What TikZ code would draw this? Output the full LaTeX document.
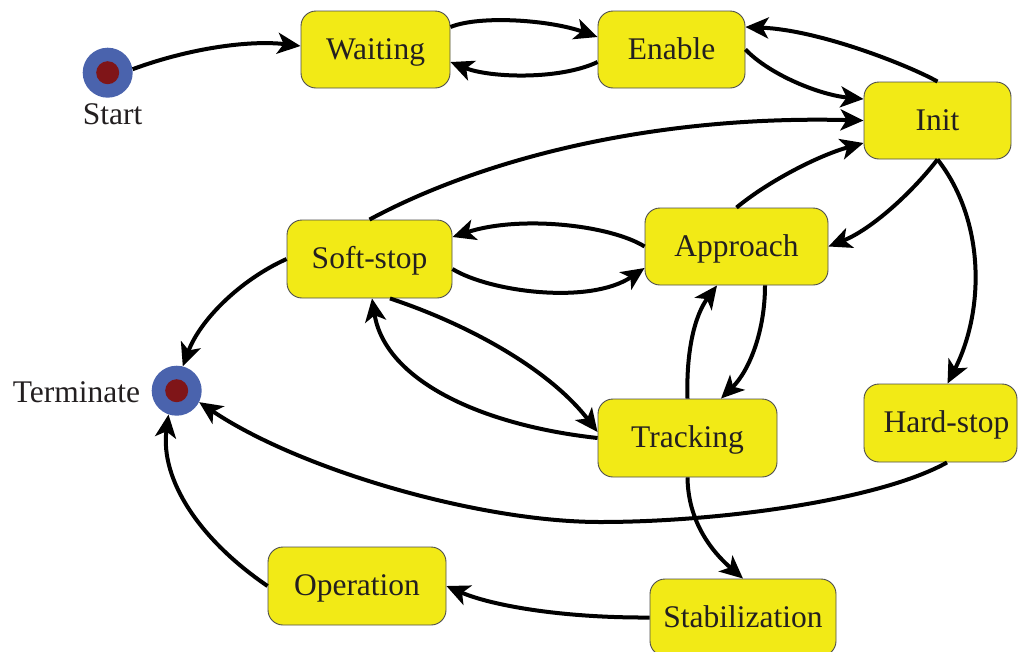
\documentclass[tikz,border=0pt]{standalone}
\usepackage{fontspec}
\setmainfont{Liberation Serif}
\usetikzlibrary{arrows.meta}
\definecolor{boxfill}{HTML}{F2EA16}
\definecolor{boxline}{HTML}{4D4D4D}
\definecolor{ink}{HTML}{231F20}
\definecolor{ringblue}{HTML}{4A63AD}
\definecolor{dotred}{HTML}{7F1518}
\begin{document}
\begin{tikzpicture}[x=1pt,y=-1pt,
  state/.style={draw=boxline, line width=0.9pt, fill=boxfill, rounded corners=15pt,
    minimum height=77pt, inner sep=0pt, text=ink,
    font=\fontsize{31.5}{36}\selectfont, text height=25pt, text depth=6pt},
  terminal/.style={circle, fill=ringblue, minimum size=50pt, inner sep=0pt,
    path picture={\fill[dotred] (path picture bounding box.center) circle (11.5pt);}},
  caption/.style={text=ink, font=\fontsize{31.5}{36}\selectfont, inner sep=0pt, anchor=base},
  trans/.style={line width=4pt, -{Stealth[length=23pt,width=21pt,inset=6pt]}},
]
\useasboundingbox (0,0) rectangle (1019,651);

% states
\node[state, minimum width=149pt] (waiting) at (375.5,49.5) {Waiting};
\node[state, minimum width=147pt] (enable) at (671.5,49.5) {Enable};
\node[state, minimum width=147pt] (init) at (937.5,120.5) {Init};
\node[state, minimum width=165pt, minimum height=78pt] (softstop) at (369.5,259) {Soft-stop};
\node[state, minimum width=183pt] (approach) at (736.5,246.5) {Approach};
\node[state, minimum width=179pt, minimum height=78pt] (tracking) at (687.5,438) {Tracking};
\node[state, minimum width=153pt, minimum height=78pt] (hardstop) at (940.5,423) {\hspace*{12pt}Hard-stop};
\node[state, minimum width=178pt, minimum height=78pt] (operation) at (357,586) {Operation};
\node[state, minimum width=186pt] (stabil) at (743,617.5) {Stabilization};

% initial and final pseudo-states
\node[terminal] (start) at (107.7,72.7) {};
\node[caption] (startlbl) at (112.5,124) {Start};
\node[terminal] (terminate) at (176.7,390.7) {};
\node[caption] (termlbl) at (76.5,402) {Terminate};

% transitions
\draw[trans] (start.8) .. controls (190,48) and (250,40) .. ([yshift=3.5pt]waiting.west);
\draw[trans] ([yshift=22.5pt]waiting.east) .. controls (480,15) and (550,20) .. ([yshift=12.5pt]enable.west);
\draw[trans] ([yshift=-12.5pt]enable.west) .. controls (560,80) and (490,78) .. ([yshift=-12.5pt]waiting.east);
\draw[trans] (init.north) .. controls (910,66) and (820,30) .. ([yshift=22.5pt]enable.east);
\draw[trans] (enable.east) .. controls (770,75) and (820,95) .. ([yshift=21.5pt]init.west);
\draw[trans] (softstop.north) .. controls (480,160) and (650,115) .. (init.west);
\draw[trans] (approach.north) .. controls (770,180) and (820,155) .. ([yshift=-22.5pt]init.west);
\draw[trans] (init.south) .. controls (910,195) and (870,230) .. (approach.east);
\draw[trans] (init.south) .. controls (985,220) and (985,310) .. ([xshift=7pt]hardstop.north);
\draw[trans] (approach.west) .. controls (610,225) and (520,215) .. ([yshift=22pt]softstop.east);
\draw[trans] ([yshift=-10pt]softstop.east) .. controls (490,292) and (590,305) .. ([yshift=-21.5pt]approach.west);
\draw[trans] ([xshift=20.5pt]softstop.south) .. controls (470,325) and (550,370) .. ([yshift=6pt]tracking.west);
\draw[trans] (tracking.west) .. controls (480,425) and (385,380) .. ([xshift=2.5pt]softstop.south);
\draw[trans] (tracking.north) .. controls (686,350) and (695,315) .. ([xshift=-19.5pt]approach.south);
\draw[trans] ([xshift=28.5pt]approach.south) .. controls (765,330) and (750,370) .. ([xshift=33.5pt]tracking.north);
\draw[trans] (softstop.west) .. controls (240,280) and (200,320) .. (terminate.76);
\draw[trans] ([xshift=6.5pt]hardstop.south) .. controls (880,500) and (720,522) .. (600,522)
  .. controls (480,522) and (300,470) .. (terminate.-27);
\draw[trans] (operation.west) .. controls (200,540) and (160,480) .. (terminate.-109);
\draw[trans] (tracking.south) .. controls (688,520) and (710,550) .. (stabil.north);
\draw[trans] (stabil.west) .. controls (560,618) and (490,605) .. (operation.east);
\end{tikzpicture}
\end{document}
